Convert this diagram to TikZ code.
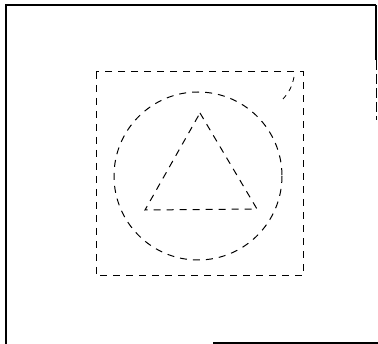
\documentclass[tikz,border=0pt]{standalone}
\begin{document}
\begin{tikzpicture}[x=1pt,y=-1pt,
  frame/.style={line width=1.8pt,black},
  dashshape/.style={line width=1pt,black,dash pattern=on 7pt off 6pt}]
\useasboundingbox (0,0) rectangle (378,344);
% outer frame
\coordinate (tl) at (6,5);
\coordinate (tr) at (376,5);
\coordinate (bl) at (6,344);
\coordinate (rr) at (376,120);
\coordinate (b1) at (213,343);
\coordinate (b2) at (378,343);
\draw[frame] (bl) -- (tl) -- (tr);
\draw[line width=1.5pt] (tr) -- (376,60);
\draw[line width=0.6pt,dash pattern=on 10pt off 4pt] (376,60) -- (rr);
\draw[line width=1.2pt] (b1) -- (b2);
% dashed square
\draw[dashshape] (96,72) rectangle (303,276);
% dashed circle
\draw[dashshape] (198,176) circle (84);
% dashed triangle
\draw[dashshape] (200,113) -- (257,209) -- (145,210) -- cycle;
% small corner arc
\draw[line width=0.8pt,dash pattern=on 5pt off 5pt] (294,77) to[bend left=15] (283,99);
\end{tikzpicture}
\end{document}
